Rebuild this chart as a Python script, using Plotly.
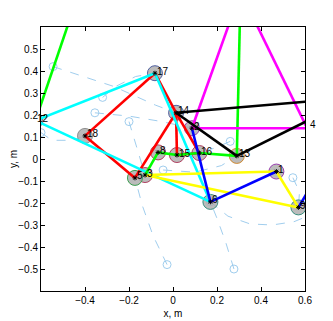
import plotly.graph_objects as go

# node positions (m) and labels
node_id = ["1", "2", "3", "4", "5", "6", "8", "9", "12", "13", "14", "15", "16", "17", "18"]
node_x = [0.47, 0.086, -0.127, 0.64, -0.173, 0.17, -0.068, 0.57, -0.625, 0.29, 0.014, 0.018, 0.12, -0.082, -0.40]
node_y = [-0.057, 0.14, -0.073, 0.15, -0.086, -0.195, 0.03, -0.22, 0.175, 0.014, 0.21, 0.018, 0.027, 0.39, 0.105]
node_edge = ["#9a3fb0", "#9a3fb0", "#b04060", "#9a3fb0", "#3aa050", "#3a9080", "#b04060", "#3a9080",
             "#5060a0", "#d08a30", "#5060a0", "#b04060", "#b04060", "#5060a0", "#909090"]

# points outside the visible window that edges run to
extra = {"g_top": (-0.44, 0.72), "apex": (0.307, 0.76), "k_right": (0.8, 0.277),
         "k4": (0.63, 0.183), "m4": (0.61, 0.14), "b_right": (0.63, -0.12)}

edges_red = [("17", "18"), ("18", "5"), ("5", "14"), ("14", "17"), ("14", "15"), ("14", "16"), ("15", "16")]
edges_cyan = [("12", "17"), ("17", "6"), ("12", "6")]
edges_green = [("12", "g_top"), ("3", "8"), ("8", "15"), ("15", "16"), ("16", "13"), ("13", "apex")]
edges_yellow = [("3", "1"), ("3", "9"), ("1", "9")]
edges_blue = [("2", "6"), ("6", "1"), ("9", "b_right")]
edges_black = [("14", "k_right"), ("14", "13"), ("13", "k4")]
edges_magenta = [("2", "apex"), ("apex", "m4"), ("m4", "2")]

# trajectories (start circle first)
traj = [
    [(-0.545, 0.42), (-0.27, 0.33), (-0.08, 0.245), (0.014, 0.21)],
    [(-0.60, 0.12), (-0.55, 0.085), (-0.46, 0.085), (-0.40, 0.105)],
    [(-0.32, 0.28), (-0.26, 0.33), (-0.17, 0.375), (-0.082, 0.39)],
    [(-0.355, 0.21), (-0.2, 0.195), (-0.05, 0.17), (0.086, 0.14)],
    [(-0.2, 0.17), (-0.17, 0.07), (-0.127, -0.073)],
    [(-0.027, -0.48), (-0.09, -0.35), (-0.14, -0.21), (-0.173, -0.086)],
    [(0.277, -0.50), (0.24, -0.38), (0.2, -0.27), (0.17, -0.195)],
    [(0.17, -0.195), (0.25, -0.26), (0.35, -0.295), (0.45, -0.30), (0.55, -0.285), (0.66, -0.24)],
    [(0.545, -0.085), (0.575, -0.15), (0.57, -0.22)],
    [(0.26, 0.08), (0.19, 0.05), (0.12, 0.027)],
    [(-0.045, -0.05), (0.1, -0.06), (0.22, -0.03), (0.29, 0.014)],
]

X_RANGE = [-0.6, 0.6]
Y_RANGE = [-0.6, 0.6]

pos = {n: (x, y) for n, x, y in zip(node_id, node_x, node_y)}
pos.update(extra)

fig = go.Figure()

tcol = "rgba(150,200,235,0.9)"
for t in traj:
    fig.add_trace(go.Scatter(x=[p[0] for p in t], y=[p[1] for p in t], mode="lines",
                             line=dict(color=tcol, width=1, dash="dash"), hoverinfo="skip"))
    fig.add_trace(go.Scatter(x=[t[0][0]], y=[t[0][1]], mode="markers",
                             marker=dict(symbol="circle-open", size=8, color=tcol, line=dict(width=1)),
                             hoverinfo="skip"))

def add_edges(edges, color):
    xs, ys = [], []
    for a, b in edges:
        xs += [pos[a][0], pos[b][0], None]
        ys += [pos[a][1], pos[b][1], None]
    fig.add_trace(go.Scatter(x=xs, y=ys, mode="lines", line=dict(color=color, width=2.6), hoverinfo="skip"))

# nodes under the edges
fig.add_trace(go.Scatter(x=node_x, y=node_y, mode="markers",
                         marker=dict(size=15, color="rgba(170,170,170,0.8)",
                                     line=dict(color=node_edge, width=1)), hoverinfo="skip"))

add_edges(edges_red, "#ff0000")
add_edges(edges_cyan, "#00ffff")
add_edges(edges_yellow, "#ffff00")
add_edges(edges_green, "#00ff00")
add_edges(edges_blue, "#0000ff")
add_edges(edges_magenta, "#ff00ff")
add_edges(edges_black, "#000000")

fig.add_trace(go.Scatter(x=node_x, y=node_y, mode="markers",
                         marker=dict(symbol="asterisk-open", size=4, color="black", line=dict(width=1, color="black")),
                         hoverinfo="skip"))

# labels; plotly hides data annotations outside the range, so clamp those and shift in pixels
px_per_unit = 264 / 1.2
for n, x, y in zip(node_id, node_x, node_y):
    xc = min(max(x, X_RANGE[0]), X_RANGE[1])
    shift = (x - xc) * px_per_unit
    fig.add_annotation(x=xc, y=y, text=n, showarrow=False, xanchor="left", yanchor="middle",
                       xshift=shift if x < X_RANGE[0] else min(shift, 3), yshift=2,
                       font=dict(size=10, color="black", family="Liberation Sans"))

ax = dict(showgrid=False, zeroline=False, showline=True, linecolor="black", linewidth=1,
          mirror="ticks", ticks="inside", ticklen=4, tickcolor="black",
          tickfont=dict(size=10, color="black", family="Liberation Sans"))

# the page body adds an 8 px offset, so the figure is a bit smaller than the window
fig.update_layout(
    width=325, height=313, showlegend=False,
    paper_bgcolor="white", plot_bgcolor="white",
    margin=dict(l=33, r=28, t=19, b=30, autoexpand=False),
    xaxis=dict(range=X_RANGE, tickvals=[-0.4, -0.2, 0, 0.2, 0.4, 0.6],
               ticktext=["\u22120.4", "\u22120.2", "0", "0.2", "0.4", "0.6"],
               title=dict(text="x, m", standoff=4, font=dict(size=10, family="Liberation Sans", color="black")), **ax),
    yaxis=dict(range=Y_RANGE, tickvals=[-0.5, -0.4, -0.3, -0.2, -0.1, 0, 0.1, 0.2, 0.3, 0.4, 0.5],
               title=dict(text="y, m", standoff=10, font=dict(size=10, family="Liberation Sans", color="black")), **ax),
)

fig.write_html("out.html")
